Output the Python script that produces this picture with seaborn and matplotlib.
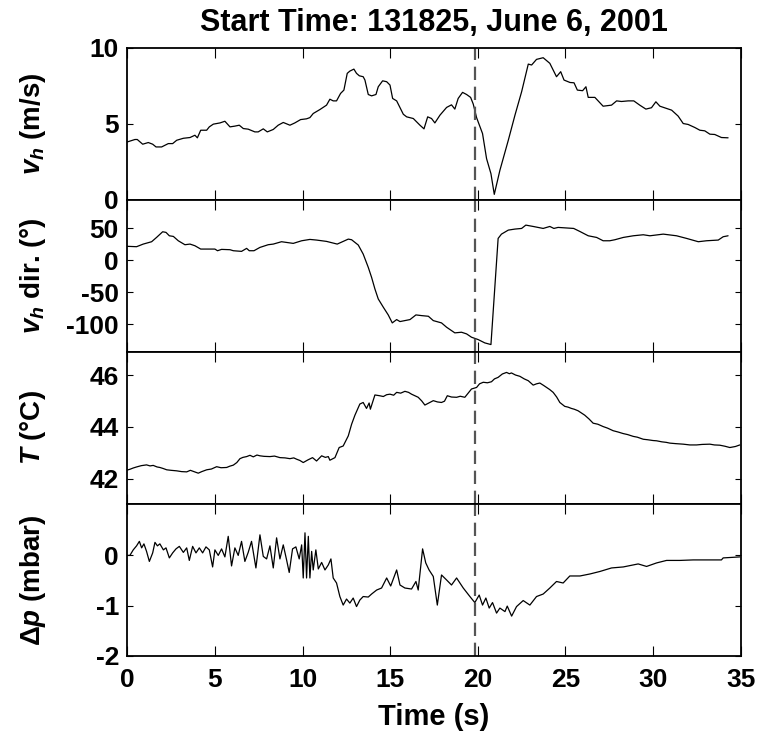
import numpy as np
import pandas as pd
import matplotlib
matplotlib.use("Agg")
import matplotlib.pyplot as plt
import seaborn as sns

# (time s, value)
vh_pts = [(0.0, 3.8), (0.44, 3.96), (0.57, 3.96), (0.88, 3.65), (1.2, 3.76), (1.45, 3.65), (1.64, 3.47),
          (1.96, 3.47), (2.34, 3.69), (2.59, 3.69), (2.82, 3.91), (3.2, 4.04), (3.58, 4.09), (3.86, 4.24),
          (4.0, 4.07), (4.19, 4.57), (4.53, 4.57), (4.68, 4.79), (4.91, 4.97), (5.29, 5.05), (5.57, 5.16),
          (5.86, 4.79), (6.14, 4.84), (6.39, 4.9), (6.62, 4.68), (6.9, 4.64), (7.28, 4.46), (7.47, 4.46),
          (7.76, 4.66), (7.99, 4.46), (8.33, 4.62), (8.61, 4.9), (8.9, 5.08), (9.28, 4.9), (9.56, 5.05),
          (9.89, 5.27), (10.23, 5.32), (10.42, 5.4), (10.61, 5.67), (10.99, 5.93), (11.37, 6.22), (11.56, 6.61),
          (11.75, 6.5), (11.94, 6.5), (12.17, 6.99), (12.36, 7.21), (12.55, 8.31), (12.7, 8.46), (12.93, 8.59),
          (13.08, 8.31), (13.24, 8.15), (13.46, 8.09), (13.56, 7.87), (13.75, 6.92), (13.94, 6.83), (14.19, 6.92),
          (14.32, 7.43), (14.57, 7.82), (14.8, 7.76), (14.99, 7.54), (15.14, 6.66), (15.37, 6.5), (15.75, 5.62),
          (15.94, 5.45), (16.32, 5.34), (16.7, 4.9), (16.93, 4.66), (17.14, 5.45), (17.36, 5.34), (17.55, 5.05),
          (17.84, 5.56), (18.22, 6.07), (18.5, 6.24), (18.69, 5.96), (18.88, 6.66), (19.13, 7.06), (19.36, 6.92),
          (19.59, 6.73), (19.74, 6.29), (19.93, 5.4), (20.27, 4.35), (20.5, 2.7), (20.75, 1.71), (20.94, 0.35),
          (21.26, 1.93), (21.74, 3.91), (22.12, 5.56), (22.5, 7.1), (22.88, 8.92), (23.07, 8.86), (23.35, 9.23),
          (23.73, 9.34), (24.11, 8.97), (24.49, 8.09), (24.73, 8.42), (24.92, 7.87), (25.26, 7.71), (25.49, 7.69),
          (25.68, 7.21), (25.98, 7.17), (26.17, 7.43), (26.3, 6.73), (26.68, 6.73), (27.15, 6.15), (27.63, 6.22),
          (27.92, 6.5), (28.2, 6.46), (28.58, 6.5), (28.9, 6.5), (29.24, 6.22), (29.59, 5.96), (29.91, 6.05),
          (30.16, 6.44), (30.39, 6.15), (31.06, 5.89), (31.43, 5.5), (31.72, 5.01), (32.0, 4.95), (32.38, 4.75),
          (32.67, 4.57), (32.95, 4.53), (33.24, 4.31), (33.52, 4.29), (33.9, 4.09), (34.28, 4.07)]

dir_pts = [(0.0, 22), (0.53, 21.4), (0.91, 25.5), (1.39, 29.2), (1.67, 35.9), (2.02, 44.8), (2.21, 43.8),
           (2.4, 38.5), (2.63, 37.5), (2.91, 30.7), (3.29, 24.5), (3.58, 25.5), (3.86, 22.9), (4.19, 17.7),
           (4.62, 17.7), (5.0, 17.7), (5.15, 15.1), (5.38, 17.2), (5.86, 16.7), (6.05, 15.1), (6.52, 14.1),
           (6.81, 18.8), (6.96, 15.1), (7.23, 15.1), (7.57, 20.3), (8.04, 24.5), (8.33, 25.5), (8.8, 29.2),
           (9.47, 26.6), (9.95, 30.7), (10.42, 32.8), (10.8, 31.8), (11.37, 29.7), (11.98, 25.5), (12.32, 29.7),
           (12.61, 33.3), (12.8, 32.3), (13.18, 24.0), (13.46, 9.9), (13.75, -10.9), (13.94, -26.6), (14.13, -44.8),
           (14.32, -60.4), (14.61, -73.4), (14.89, -85.4), (15.12, -97.9), (15.37, -92.7), (15.56, -95.8),
           (16.13, -92.7), (16.47, -85.4), (16.8, -86.5), (17.18, -87.5), (17.46, -94.3), (17.93, -97.9),
           (18.22, -104.7), (18.69, -113.5), (19.07, -112.5), (19.36, -115.1), (19.64, -120.3), (20.02, -124.0),
           (20.4, -129.2), (20.75, -131.8), (21.16, 34.4), (21.35, 41.1), (21.74, 47.4), (22.12, 49.0),
           (22.5, 50), (22.74, 55.2), (23.16, 53.1), (23.73, 50), (24.11, 53.1), (24.34, 50), (24.58, 51.6),
           (25.47, 50), (25.82, 45.3), (26.3, 38.5), (26.78, 35.9), (27.15, 30.7), (27.53, 30.7), (27.82, 32.3),
           (28.3, 35.9), (28.87, 38.5), (29.44, 40.1), (29.82, 38.5), (30.58, 41.1), (31.34, 38.5), (31.91, 34.4),
           (32.58, 29.2), (33.05, 30.7), (33.72, 31.8), (34.0, 37.0), (34.28, 38.5)]

temp_pts = [(0.0, 42.33), (0.15, 42.36), (0.34, 42.41), (0.53, 42.45), (0.8, 42.5), (1.1, 42.53), (1.3, 42.49),
            (1.48, 42.51), (1.7, 42.45), (1.86, 42.43), (2.05, 42.39), (2.25, 42.34), (2.5, 42.32), (2.82, 42.3),
            (3.1, 42.27), (3.39, 42.26), (3.6, 42.32), (3.77, 42.28), (4.05, 42.21), (4.25, 42.27), (4.53, 42.34),
            (4.8, 42.37), (5.1, 42.46), (5.35, 42.42), (5.67, 42.43), (5.85, 42.48), (6.05, 42.52), (6.25, 42.62),
            (6.43, 42.77), (6.6, 42.82), (6.81, 42.85), (7.0, 42.9), (7.19, 42.84), (7.4, 42.91), (7.57, 42.88),
            (7.8, 42.86), (8.14, 42.85), (8.4, 42.87), (8.71, 42.81), (9.0, 42.8), (9.28, 42.77), (9.5, 42.8),
            (9.66, 42.75), (9.85, 42.7), (10.04, 42.62), (10.3, 42.72), (10.57, 42.81), (10.8, 42.68), (11.09, 42.88),
            (11.3, 42.82), (11.47, 42.85), (11.56, 42.71), (11.85, 42.81), (12.09, 43.2), (12.32, 43.26),
            (12.61, 43.65), (12.8, 44.1), (12.99, 44.45), (13.27, 44.88), (13.46, 44.94), (13.65, 44.71),
            (13.8, 44.92), (13.87, 44.68), (14.13, 45.23), (14.4, 45.2), (14.61, 45.17), (14.8, 45.24),
            (14.99, 45.26), (15.2, 45.22), (15.37, 45.33), (15.6, 45.3), (15.84, 45.37), (16.05, 45.33),
            (16.22, 45.26), (16.6, 45.14), (16.8, 45.0), (16.98, 44.84), (17.2, 44.92), (17.46, 45.01),
            (17.7, 44.96), (17.93, 44.94), (18.1, 44.99), (18.26, 45.2), (18.5, 45.15), (18.79, 45.14),
            (19.0, 45.18), (19.26, 45.14), (19.45, 45.3), (19.64, 45.46), (19.93, 45.52), (20.1, 45.66),
            (20.31, 45.72), (20.55, 45.7), (20.78, 45.74), (20.95, 45.85), (21.16, 45.91), (21.4, 46.04),
            (21.64, 46.1), (21.8, 46.05), (21.92, 46.08), (22.15, 46.0), (22.4, 45.95), (22.65, 45.85),
            (22.88, 45.78), (23.16, 45.61), (23.35, 45.66), (23.54, 45.69), (23.75, 45.6), (23.92, 45.52),
            (24.1, 45.44), (24.3, 45.33), (24.5, 45.15), (24.68, 44.94), (24.96, 44.79), (25.15, 44.76),
            (25.34, 44.71), (25.5, 44.68), (25.72, 44.62), (25.9, 44.54), (26.1, 44.45), (26.35, 44.3),
            (26.58, 44.14), (26.85, 44.1), (27.15, 44.01), (27.4, 43.95), (27.72, 43.85), (28.0, 43.8),
            (28.29, 43.74), (28.55, 43.7), (28.87, 43.63), (29.1, 43.6), (29.44, 43.52), (29.7, 43.5),
            (30.0, 43.47), (30.2, 43.46), (30.5, 43.42), (30.75, 43.4), (30.96, 43.37), (31.3, 43.35),
            (31.72, 43.33), (32.1, 43.3), (32.48, 43.3), (32.8, 43.32), (33.24, 43.33), (33.5, 43.3),
            (33.81, 43.29), (34.1, 43.25), (34.38, 43.2), (34.7, 43.24), (34.95, 43.3)]

dp_pts = [(0.0, 0.0), (0.15, 0.0), (0.34, 0.11), (0.53, 0.19), (0.69, 0.28), (0.82, 0.15), (0.95, 0.23),
          (1.1, 0.08), (1.26, -0.12), (1.45, 0.05), (1.58, 0.26), (1.72, 0.19), (1.86, 0.23), (2.06, 0.11),
          (2.21, 0.15), (2.4, -0.05), (2.59, 0.05), (2.78, 0.13), (2.97, 0.18), (3.2, 0.06), (3.39, 0.15),
          (3.54, -0.1), (3.73, 0.18), (3.92, 0.05), (4.11, 0.15), (4.3, 0.05), (4.49, 0.17), (4.68, 0.11),
          (4.87, -0.23), (5.0, 0.11), (5.19, 0.0), (5.38, 0.13), (5.57, -0.03), (5.76, 0.38), (5.95, -0.21),
          (6.14, 0.15), (6.33, 0.0), (6.52, 0.28), (6.71, -0.12), (6.9, 0.06), (7.09, 0.28), (7.34, -0.25),
          (7.57, 0.41), (7.76, -0.02), (7.95, -0.07), (8.14, 0.19), (8.33, -0.25), (8.52, 0.35), (8.71, -0.07),
          (8.9, 0.21), (9.09, -0.09), (9.24, -0.34), (9.43, 0.13), (9.62, 0.17), (9.81, -0.07), (9.95, 0.21),
          (10.04, -0.45), (10.14, 0.45), (10.23, -0.45), (10.33, 0.38), (10.42, -0.45), (10.52, 0.08),
          (10.61, -0.29), (10.76, 0.11), (10.9, -0.27), (11.09, -0.14), (11.28, -0.29), (11.47, -0.19),
          (11.62, -0.07), (11.75, -0.45), (11.94, -0.55), (12.13, -0.82), (12.32, -0.99), (12.51, -0.87),
          (12.7, -0.95), (12.89, -0.85), (13.08, -1.02), (13.27, -0.89), (13.46, -0.82), (13.75, -0.83),
          (13.94, -0.77), (14.23, -0.69), (14.51, -0.65), (14.8, -0.45), (15.03, -0.61), (15.37, -0.29),
          (15.56, -0.59), (15.84, -0.65), (16.22, -0.67), (16.47, -0.52), (16.6, -0.69), (16.85, 0.13),
          (17.03, -0.15), (17.22, -0.29), (17.46, -0.42), (17.69, -0.99), (17.93, -0.39), (18.22, -0.49),
          (18.5, -0.59), (18.79, -0.45), (19.17, -0.65), (19.55, -0.82), (19.83, -0.94), (20.08, -0.79),
          (20.27, -0.99), (20.46, -0.85), (20.65, -1.05), (20.84, -0.94), (21.07, -1.15), (21.26, -1.05),
          (21.55, -1.12), (21.68, -1.01), (21.93, -1.21), (22.21, -1.02), (22.59, -0.9), (22.97, -0.99),
          (23.35, -0.82), (23.73, -0.77), (24.11, -0.65), (24.49, -0.52), (24.87, -0.55), (25.25, -0.41),
          (25.83, -0.41), (26.4, -0.37), (26.97, -0.32), (27.63, -0.25), (28.3, -0.23), (29.15, -0.17),
          (29.63, -0.22), (30.2, -0.15), (30.77, -0.1), (31.53, -0.1), (32.29, -0.09), (33.05, -0.09),
          (33.9, -0.09), (34.0, -0.05), (34.95, -0.03)]

event_time = 19.85
title = "Start Time: 131825, June 6, 2001"
ylabels = [r"$v_h$ (m/s)", r"$v_h$ dir. ($\degree$)", r"$T$ ($\degree$C)", r"$\Delta p$ (mbar)"]
ylims = [(0, 10), (-143, 95), (41.03, 46.9), (-2, 1.03)]
yticks = [[0, 5, 10], [-100, -50, 0, 50], [42, 44, 46], [-2, -1, 0]]
xticks = [0, 5, 10, 15, 20, 25, 30, 35]

sns.set_theme(style="ticks")
plt.rcParams["font.family"] = ["Liberation Sans", "DejaVu Sans"]
plt.rcParams["font.weight"] = "bold"
plt.rcParams["axes.unicode_minus"] = False
plt.rcParams["mathtext.fontset"] = "custom"
plt.rcParams["mathtext.rm"] = "Liberation Sans:bold"
plt.rcParams["mathtext.it"] = "Liberation Sans:bold:italic"
plt.rcParams["mathtext.bf"] = "Liberation Sans:bold"
# seaborn greys out the text, the original is plain black
for key in ["text.color", "axes.labelcolor", "xtick.color", "ytick.color", "axes.edgecolor"]:
    plt.rcParams[key] = "black"

fig = plt.figure(figsize=(7.69, 7.52), dpi=100)
left, right, top, bottom = 0.1655, 0.9632, 0.9366, 0.128
h = (top - bottom) / 4

series = [vh_pts, dir_pts, temp_pts, dp_pts]
axes = []
for i, pts in enumerate(series):
    ax = fig.add_axes([left, top - (i + 1) * h, right - left, h])
    df = pd.DataFrame(pts, columns=["t", "y"])
    sns.lineplot(data=df, x="t", y="y", ax=ax, color="black", linewidth=0.9,
                 estimator=None, sort=False)
    ax.axvline(event_time, color="#555555", linestyle=(0, (6, 3)), linewidth=1.6)
    ax.set_xlim(0, 35)
    ax.set_ylim(*ylims[i])
    ax.set_yticks(yticks[i])
    ax.set_xticks(xticks)
    ax.tick_params(axis="both", direction="in", top=True, right=True,
                   labelsize=19, width=0.8, color="black", labelcolor="black", pad=6)
    ax.tick_params(axis="x", length=7)
    ax.tick_params(axis="y", length=4.5)
    for lab in ax.get_yticklabels():
        lab.set_fontweight("bold")
    ax.set_ylabel(ylabels[i], fontsize=20, fontweight="bold", color="black")
    ax.yaxis.set_label_coords(-0.13, 0.5)
    for sp in ax.spines.values():
        sp.set_linewidth(1.3)
        sp.set_color("black")
    if i < 3:
        ax.set_xticklabels([])
        ax.set_xlabel("")
    else:
        for lab in ax.get_xticklabels():
            lab.set_fontweight("bold")
        ax.set_xlabel("Time (s)", fontsize=21, fontweight="bold", labelpad=8, color="black")
    axes.append(ax)

axes[0].set_title(title, fontsize=22, fontweight="bold", pad=12, color="black")
axes[3].tick_params(axis="x", pad=9)

fig.savefig("out.png", dpi=100)
